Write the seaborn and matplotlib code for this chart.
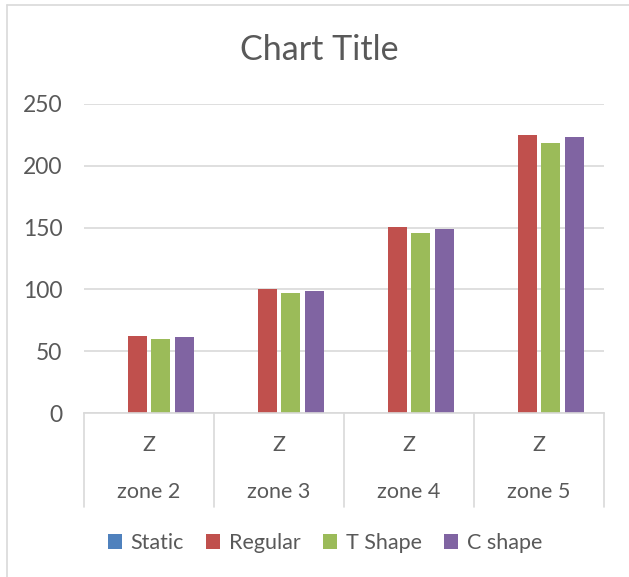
import matplotlib
matplotlib.use("Agg")
import matplotlib.pyplot as plt
import matplotlib.transforms as mtransforms
from matplotlib.patches import Patch
from matplotlib.lines import Line2D
import seaborn as sns
import pandas as pd

# ---- data ----
zones = ["zone 2", "zone 3", "zone 4", "zone 5"]
sub_labels = ["Z", "Z", "Z", "Z"]
series = ["Static", "Regular", "T Shape", "C shape"]
static = [0, 0, 0, 0]
regular = [62.4, 100.1, 150.2, 225.3]
t_shape = [60.0, 96.9, 145.4, 218.3]
c_shape = [61.6, 98.8, 148.6, 223.1]
y_ticks = [0, 50, 100, 150, 200, 250]
colors = ["#4F81BD", "#C0504D", "#9BBB59", "#8064A2"]

sns.set_theme(style="white")
plt.rcParams['font.family'] = ['Lato', 'DejaVu Sans']

TXT = "#595959"
GRID = "#D9D9D9"
FS = 15.5

df = pd.DataFrame({
    "zone": zones * 4,
    "series": sum([[s] * len(zones) for s in series], []),
    "value": static + regular + t_shape + c_shape,
})

W, H = 629, 577
fig = plt.figure(figsize=(W / 100, H / 100), dpi=100)
ax = fig.add_axes([84 / W, (H - 413) / H, (604 - 84) / W, (413 - 104) / H])

sns.barplot(data=df, x="zone", y="value", hue="series", order=zones,
            hue_order=series, palette=colors, width=0.726, gap=0.2,
            saturation=1, errorbar=None, legend=False, linewidth=0, ax=ax)

ax.set_xlim(-0.5, len(zones) - 0.5)
ax.set_ylim(0, 250)
ax.set_yticks(y_ticks)
ax.set_yticklabels([str(v) for v in y_ticks], fontsize=16.5, color=TXT)
ax.tick_params(axis="y", length=0, pad=15.5)
ax.set_xticks([])
ax.set_xlabel("")
ax.set_ylabel("")
ax.grid(axis="y", color=GRID, linewidth=1.2)
ax.set_axisbelow(True)
for s in ["top", "right", "left"]:
    ax.spines[s].set_visible(False)
ax.spines["bottom"].set_color(GRID)
ax.spines["bottom"].set_linewidth(1.2)

# multi-level category axis
trans = mtransforms.blended_transform_factory(ax.transData, ax.transAxes)
ax_h = 413 - 104
line_bottom = -(507 - 413) / ax_h
for b in [i - 0.5 for i in range(len(zones) + 1)]:
    ax.plot([b, b], [0, line_bottom], transform=trans, color=GRID,
            linewidth=1.2, clip_on=False)
for i, (sl, z) in enumerate(zip(sub_labels, zones)):
    ax.text(i, -(445 - 413) / ax_h, sl, transform=trans, ha="center",
            va="center", fontsize=FS, color=TXT)
    ax.text(i, -(492 - 413) / ax_h, z, transform=trans, ha="center",
            va="center", fontsize=FS, color=TXT)

# title
fig.text(319 / W, (H - 50) / H, "Chart Title", ha="center", va="center",
         fontsize=24.5, color=TXT)

# legend
handles = [Patch(facecolor=c, edgecolor="none", label=s) for s, c in zip(series, colors)]
fig.legend(handles=handles, loc="center", bbox_to_anchor=(325 / W, (H - 543) / H),
           ncol=4, frameon=False, fontsize=FS, handlelength=0.65,
           handleheight=0.65, handletextpad=0.4, columnspacing=1.05,
           labelcolor=TXT)

# chart border
fig.add_artist(Line2D([7 / W, 7 / W], [0, (H - 5) / H], color=GRID, linewidth=1.2,
                      transform=fig.transFigure))
fig.add_artist(Line2D([7 / W, 1], [(H - 5) / H, (H - 5) / H], color=GRID,
                      linewidth=1.2, transform=fig.transFigure))

fig.savefig("out.png", dpi=100)
